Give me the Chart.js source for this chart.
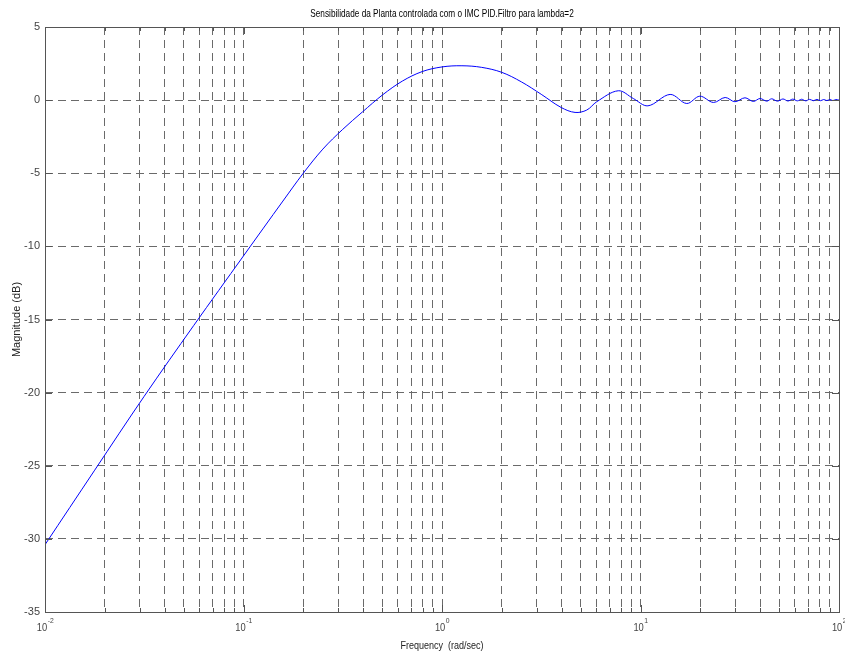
<!DOCTYPE html>
<html>
<head>
<meta charset="utf-8">
<script src="https://cdn.jsdelivr.net/npm/chart.js@4/dist/chart.umd.min.js"></script>
<style>
  html, body { margin: 0; padding: 0; background: #fff; }
  #wrap { width: 845px; height: 657px; }
</style>
</head>
<body>
<div id="wrap"><canvas id="myChart" width="845" height="657"></canvas></div>
<script>
// data
var freq = [0.01, 0.0178, 0.0316, 0.0562, 0.1, 0.126, 0.158, 0.2, 0.251, 0.316, 0.398, 0.501, 0.631, 0.794,
  1.0, 1.26, 1.585, 2.0, 2.51, 3.16, 3.98, 4.68, 5.36, 6.02, 7.73, 9.2, 10.9, 14.1, 17.1, 19.9,
  23.3, 26.7, 29.9, 33.6, 37, 40, 43.3, 45.8, 49, 52.2, 55.3, 58.5, 61.7, 64.8, 68, 71.1, 74.3,
  77.4, 80.6, 83.7, 86.9, 90, 93.2, 96.3, 100];
var mag = [-30.4, -25.3, -20.25, -15.4, -10.65, -8.75, -6.9, -5.0, -3.35, -2.0, -0.8, 0.35, 1.3, 1.95,
  2.27, 2.35, 2.24, 1.9, 1.25, 0.4, -0.5, -0.84, -0.68, -0.11, 0.64, 0.11, -0.39, 0.39, -0.23, 0.27,
  -0.16, 0.18, -0.11, 0.16, -0.09, 0.11, -0.07, 0.09, -0.07, 0.08, -0.06, 0.07, -0.05, 0.06, -0.05, 0.05, -0.04,
  0.05, -0.04, 0.04, -0.03, 0.04, -0.03, 0.04, 0.0];

var yTicks = [5, 0, -5, -10, -15, -20, -25, -30, -35];
var decades = [-2, -1, 0, 1, 2];

var titleText = 'Sensibilidade da Planta controlada com o IMC PID.Filtro para lambda=2';
var xTitle = 'Frequency  (rad/sec)';
var yTitle = 'Magnitude (dB)';

var fontFam = '"Liberation Sans", Arial, sans-serif';

var points = [];
for (var i = 0; i < freq.length; i++) {
  points.push({x: freq[i], y: mag[i]});
}

// ticks 1..9 per decade for the log grid
function logTicks() {
  var t = [];
  for (var d = -2; d < 2; d++) {
    for (var k = 1; k <= 9; k++) t.push({value: k * Math.pow(10, d)});
  }
  t.push({value: 100});
  return t;
}

// narrow text: squeeze horizontally
function narrowText(c, txt, x, y, sx) {
  c.save();
  c.translate(x, y);
  c.scale(sx, 1);
  c.fillText(txt, 0, 0);
  c.restore();
}

/* plugin: box, inner ticks, titles, x labels */
var decor = {
  id: 'decor',
  afterDraw: function(chart) {
    var c = chart.ctx;
    var a = chart.chartArea;
    var xs = chart.scales.x;
    var ys = chart.scales.y;
    c.save();

    // inner ticks
    c.strokeStyle = '#555';
    c.lineWidth = 1;
    c.beginPath();
    xs.ticks.forEach(function(t) {
      var px = Math.round(xs.getPixelForValue(t.value)) + 0.5;
      var major = Math.abs(Math.log10(t.value) - Math.round(Math.log10(t.value))) < 1e-6;
      var len = major ? 7 : 4;
      c.moveTo(px, a.bottom); c.lineTo(px, a.bottom - len);
      c.moveTo(px, a.top); c.lineTo(px, a.top + len);
    });
    yTicks.forEach(function(v) {
      var py = Math.round(ys.getPixelForValue(v)) + 0.5;
      c.moveTo(a.left, py); c.lineTo(a.left + 7, py);
      c.moveTo(a.right, py); c.lineTo(a.right - 7, py);
    });
    c.stroke();

    // box
    c.strokeStyle = '#555';
    c.strokeRect(Math.round(a.left) + 0.5, Math.round(a.top) + 0.5,
      Math.round(a.right - a.left), Math.round(a.bottom - a.top));

    // x tick labels 10^n
    c.fillStyle = '#444';
    c.textBaseline = 'alphabetic';
    decades.forEach(function(d) {
      var px = xs.getPixelForValue(Math.pow(10, d));
      c.font = '11px ' + fontFam;
      var w1 = c.measureText('10').width * 0.85;
      c.font = '8px ' + fontFam;
      var w2 = c.measureText(String(d)).width * 0.85;
      var x0 = px - (w1 + w2) / 2;
      c.font = '11px ' + fontFam;
      c.textAlign = 'left';
      narrowText(c, '10', x0, a.bottom + 19, 0.85);
      c.font = '8px ' + fontFam;
      narrowText(c, String(d), x0 + w1 + 0.5, a.bottom + 11, 0.85);
    });

    // title
    c.fillStyle = '#000';
    c.textAlign = 'center';
    c.textBaseline = 'middle';
    c.font = '11px ' + fontFam;
    narrowText(c, titleText, (a.left + a.right) / 2, 14, 0.75);

    // axis titles
    c.fillStyle = '#222';
    narrowText(c, xTitle, (a.left + a.right) / 2, 646, 0.82);
    c.translate(17, (a.top + a.bottom) / 2);
    c.rotate(-Math.PI / 2);
    c.fillText(yTitle, 0, 0);
    c.restore();
  }
};

var ctx = document.getElementById('myChart');

var myChart = new Chart(ctx, {
  type: 'line',
  data: {
    datasets: [{
      data: points,
      borderColor: '#0000ff',
      borderWidth: 1,
      pointRadius: 0,
      fill: false,
      tension: 0.35
    }]
  },
  options: {
    responsive: false,
    animation: false,
    devicePixelRatio: 1,
    layout: { padding: { top: 27, right: 6, left: 0, bottom: 0 } },
    plugins: {
      legend: { display: false },
      tooltip: { enabled: false }
    },
    scales: {
      x: {
        type: 'logarithmic',
        min: 0.01,
        max: 100,
        afterBuildTicks: function(s) { s.ticks = logTicks(); },
        afterFit: function(s) { s.height = 45; },
        ticks: { display: false },
        grid: { color: '#6a6a6a', lineWidth: 1, drawTicks: false },
        border: { display: false, dash: [8, 5] }
      },
      y: {
        min: -35,
        max: 5,
        afterBuildTicks: function(s) { s.ticks = yTicks.map(function(v) { return {value: v}; }); },
        afterFit: function(s) { s.width = 45; },
        ticks: {
          color: '#444',
          padding: 5,
          font: { family: fontFam, size: 11 }
        },
        grid: { color: '#6a6a6a', lineWidth: 1, drawTicks: false },
        border: { display: false, dash: [8, 5] }
      }
    }
  },
  plugins: [decor]
});
</script>
</body>
</html>
